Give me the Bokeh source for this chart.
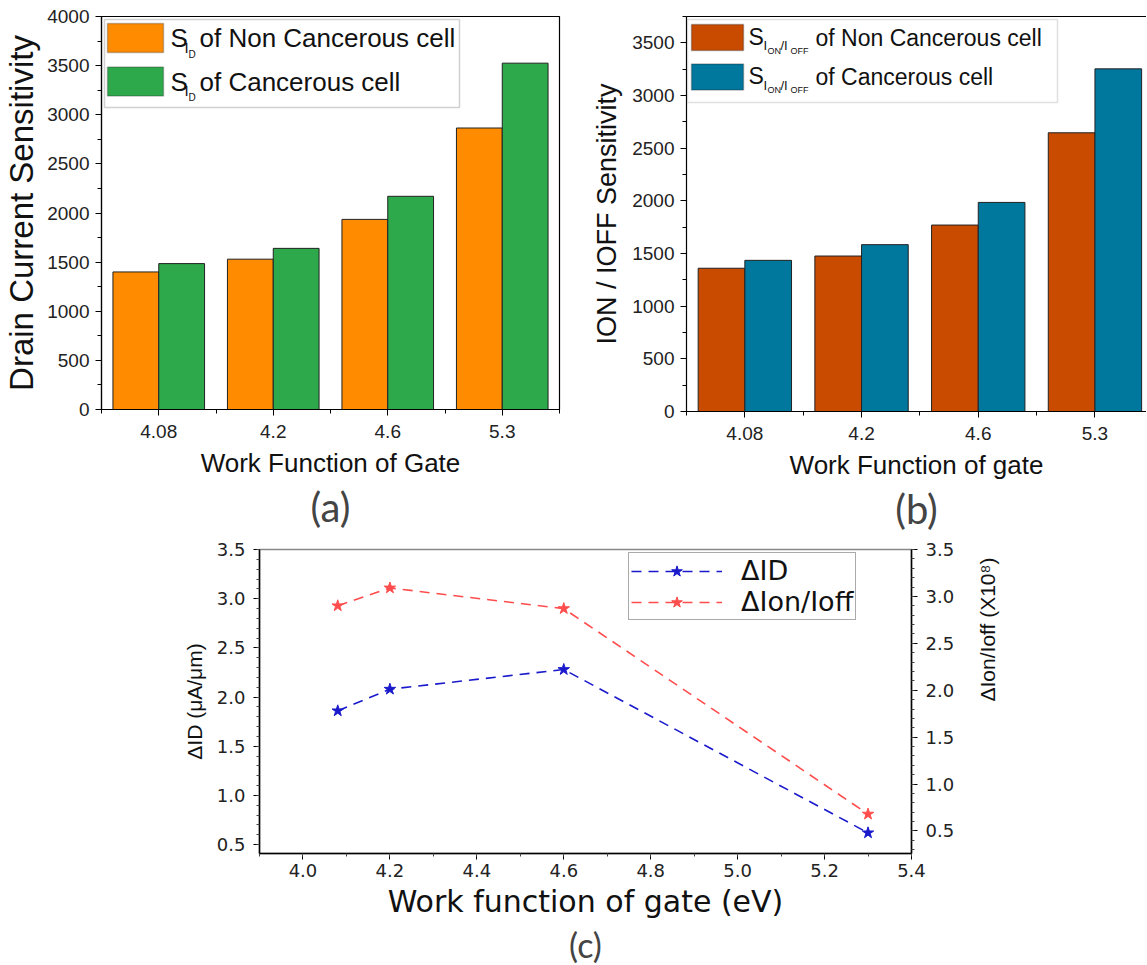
import math
from bokeh.plotting import figure
from bokeh.models import (Range1d, LinearAxis, FixedTicker, SingleIntervalTicker,
                          BoxAnnotation, Label, Legend, LegendItem, Title,
                          NumeralTickFormatter)
from bokeh.layouts import column, row
from bokeh.embed import file_html
from bokeh.resources import INLINE

# ---------------- data ----------------
work_functions = ["4.08", "4.2", "4.6", "5.3"]
sid_non_cancerous = [1400, 1530, 1935, 2865]
sid_cancerous = [1485, 1640, 2170, 3525]
sratio_non_cancerous = [1360, 1476, 1770, 2646]
sratio_cancerous = [1435, 1584, 1985, 3253]

wf_ev = [4.08, 4.2, 4.6, 5.3]
delta_id = [1.86, 2.08, 2.28, 0.62]
delta_ion_ioff = [2.90, 3.09, 2.87, 0.68]

# ---------------- styles ----------------
SANS = "Liberation Sans"
WIDE = "DejaVu Sans"
PANEL = "Lato"
ORANGE = "#FF8C00"
GREEN = "#2DA84A"
RUST = "#C84B00"
TEAL = "#00789E"
BLUE = "#1A1ACC"
RED = "#FF4D4D"

idx = [i + 1 for i in range(len(work_functions))]
x_left = [i - 0.2 for i in idx]
x_right = [i + 0.2 for i in idx]
cat_labels = {i: wf for i, wf in zip(idx, work_functions)}


def mapper(fr_left, fr_top, fr_w, fr_h, xr, yr):
    def fx(px):
        return xr[0] + (px - fr_left) / fr_w * (xr[1] - xr[0])

    def fy(py):
        return yr[1] - (py - fr_top) / fr_h * (yr[1] - yr[0])
    return fx, fy


def style_bar_axes(p, xlabel, ylabel, ylabel_size, interval):
    xa = p.xaxis[0]
    xa.ticker = FixedTicker(ticks=idx, minor_ticks=[i - 0.5 for i in idx] + [idx[-1] + 0.5])
    xa.major_label_overrides = cat_labels
    ya = p.yaxis[0]
    ya.ticker = SingleIntervalTicker(interval=interval, num_minor_ticks=2)
    for ax in (xa, ya):
        ax.axis_line_color = "black"
        ax.axis_line_width = 1.2
        ax.major_tick_line_color = "black"
        ax.minor_tick_line_color = "black"
        ax.major_tick_out = 6
        ax.major_tick_in = 0
        ax.minor_tick_out = 4
        ax.minor_tick_in = 0
        ax.major_label_text_font = SANS
        ax.major_label_text_font_size = "19px"
        ax.major_label_text_color = "#222222"
        ax.axis_label_text_font = SANS
        ax.axis_label_text_font_style = "normal"
        ax.axis_label_text_color = "#111111"
    xa.axis_label = xlabel
    xa.axis_label_text_font_size = "26px"
    xa.major_label_standoff = 9
    xa.axis_label_standoff = 7
    ya.axis_label = ylabel
    ya.axis_label_text_font_size = ylabel_size
    ya.major_label_standoff = 6
    p.grid.visible = False


# ================= panel (a) =================
A_L, A_T, A_W, A_H = 101, 16, 458, 393
A_XR, A_YR = (0.5, 4.5), (0, 4000)
pa = figure(frame_width=A_W, frame_height=A_H, min_border_left=A_L, min_border_right=20,
            min_border_top=A_T, min_border_bottom=122,
            x_range=Range1d(*A_XR), y_range=Range1d(*A_YR),
            output_backend="svg", toolbar_location=None)
pa.outline_line_color = "black"
pa.outline_line_width = 1.2
pa.vbar(x=x_left, top=sid_non_cancerous, width=0.4, fill_color=ORANGE, line_color="#222222")
pa.vbar(x=x_right, top=sid_cancerous, width=0.4, fill_color=GREEN, line_color="#222222")
style_bar_axes(pa, "Work Function of Gate", "Drain Current Sensitivity", "33px", 500)
pa.yaxis[0].axis_label_standoff = 4
pa.add_layout(Title(text="(a)", align="center", text_font=PANEL, text_font_size="40px",
                    text_font_style="normal", standoff=0), "below")

fx, fy = mapper(A_L, A_T, A_W, A_H, A_XR, A_YR)
pa.add_layout(BoxAnnotation(left=fx(104), right=fx(459), top=fy(19), bottom=fy(107),
                            fill_color="white", fill_alpha=1, line_color="#666666", line_width=1.5))
for cy, col, txt in ((37.5, ORANGE, "of Non Cancerous cell"), (81, GREEN, "of Cancerous cell")):
    pa.add_layout(BoxAnnotation(left=fx(107), right=fx(163), top=fy(cy - 14.5), bottom=fy(cy + 14.5),
                                fill_color=col, fill_alpha=1, line_color="#333333", line_width=1.5))
    pa.add_layout(Label(x=fx(170), y=fy(cy), text="S", text_baseline="middle",
                        text_font=SANS, text_font_size="26px", text_color="#111111"))
    pa.add_layout(Label(x=fx(184), y=fy(cy + 9), text="I", text_baseline="middle",
                        text_font=SANS, text_font_size="15px", text_color="#111111"))
    pa.add_layout(Label(x=fx(188), y=fy(cy + 16), text="D", text_baseline="middle",
                        text_font=SANS, text_font_size="10px", text_color="#111111"))
    pa.add_layout(Label(x=fx(199), y=fy(cy), text=txt, text_baseline="middle",
                        text_font=SANS, text_font_size="26px", text_color="#111111"))

# ================= panel (b) =================
B_L, B_T, B_W, B_H = 686, 13, 460, 395
B_XR, B_YR = (0.5, 0.5 + 460 / 116.7), (0, 3750)
pb = figure(frame_width=B_W, frame_height=B_H, min_border_left=B_L - 579, min_border_right=0,
            min_border_top=B_T, min_border_bottom=123,
            x_range=Range1d(*B_XR), y_range=Range1d(*B_YR),
            output_backend="svg", toolbar_location=None)
pb.outline_line_color = None
pb.vbar(x=x_left, top=sratio_non_cancerous, width=0.4, fill_color=RUST, line_color="#222222")
pb.vbar(x=x_right, top=sratio_cancerous, width=0.4, fill_color=TEAL, line_color="#222222")
style_bar_axes(pb, "Work Function of gate", "ION / IOFF Sensitivity", "27px", 500)
pb.yaxis[0].axis_label_standoff = 7
top_axis = LinearAxis(ticker=FixedTicker(ticks=[]), major_label_text_font_size="0px",
                      major_tick_out=0, minor_tick_out=0, major_label_standoff=0,
                      axis_line_color="black", axis_line_width=1.2)
pb.add_layout(top_axis, "above")
pb.add_layout(Title(text="(b)", align="center", text_font=PANEL, text_font_size="40px",
                    text_font_style="normal", standoff=0), "below")

gx, gy = mapper(B_L, B_T, B_W, B_H, B_XR, B_YR)
pb.add_layout(BoxAnnotation(left=gx(687), right=gx(1057), top=gy(16), bottom=gy(99),
                            fill_color="white", fill_alpha=1, line_color="#999999", line_width=1.5))
for cy, col, txt in ((34, RUST, "of Non Cancerous cell"), (73.5, TEAL, "of Cancerous cell")):
    pb.add_layout(BoxAnnotation(left=gx(691), right=gx(743), top=gy(cy - 13), bottom=gy(cy + 13),
                                fill_color=col, fill_alpha=1, line_color="#222222", line_width=1.5))
    pb.add_layout(Label(x=gx(748), y=gy(cy - 1), text="S", text_baseline="middle",
                        text_font=SANS, text_font_size="23px", text_color="#111111"))
    pb.add_layout(Label(x=gx(763), y=gy(cy + 8), text="I", text_baseline="middle",
                        text_font=SANS, text_font_size="13px", text_color="#111111"))
    pb.add_layout(Label(x=gx(767), y=gy(cy + 13), text="ON", text_baseline="middle",
                        text_font=SANS, text_font_size="9px", text_color="#111111"))
    pb.add_layout(Label(x=gx(780), y=gy(cy + 8), text="/I", text_baseline="middle",
                        text_font=SANS, text_font_size="13px", text_color="#111111"))
    pb.add_layout(Label(x=gx(790), y=gy(cy + 13), text="OFF", text_baseline="middle",
                        text_font=SANS, text_font_size="9px", text_color="#111111"))
    pb.add_layout(Label(x=gx(815), y=gy(cy), text=txt, text_baseline="middle",
                        text_font=SANS, text_font_size="23px", text_color="#111111"))

# ================= panel (c) =================
C_L, C_W, C_H = 259, 652, 304
pc = figure(frame_width=C_W, frame_height=C_H, min_border_left=C_L, min_border_right=235,
            min_border_top=18, min_border_bottom=100,
            x_range=Range1d(3.9, 5.4), y_range=Range1d(0.41, 3.5),
            output_backend="svg", toolbar_location=None)
pc.extra_y_ranges = {"r": Range1d(0.26, 3.5)}
pc.grid.visible = False
pc.outline_line_color = "#888888"
pc.outline_line_width = 1.5

l1 = pc.line(wf_ev, delta_id, line_color=BLUE, line_dash="10 7", line_width=1.6)
s1 = pc.scatter(wf_ev, delta_id, marker="star", size=12, fill_color=BLUE, line_color=BLUE)
l2 = pc.line(wf_ev, delta_ion_ioff, line_color=RED, line_dash="10 7", line_width=1.6, y_range_name="r")
s2 = pc.scatter(wf_ev, delta_ion_ioff, marker="star", size=12, fill_color=RED, line_color=RED,
                y_range_name="r")

right_axis = LinearAxis(y_range_name="r")
pc.add_layout(right_axis, "right")

pc.xaxis[0].ticker = SingleIntervalTicker(interval=0.2, num_minor_ticks=2)
pc.yaxis[0].ticker = SingleIntervalTicker(interval=0.5, num_minor_ticks=5)
right_axis.ticker = SingleIntervalTicker(interval=0.5, num_minor_ticks=5)
for ax in (pc.xaxis[0], pc.yaxis[0], right_axis):
    ax.formatter = NumeralTickFormatter(format="0.0")
    ax.axis_line_color = "black"
    ax.axis_line_width = 1.5
    ax.major_tick_line_color = "black"
    ax.minor_tick_line_color = "#444444"
    ax.major_tick_out = 6
    ax.major_tick_in = 0
    ax.minor_tick_out = 3
    ax.minor_tick_in = 0
    ax.major_label_text_font = WIDE
    ax.major_label_text_font_size = "18px"
    ax.major_label_text_color = "#222222"
    ax.axis_label_text_font_style = "normal"
    ax.axis_label_text_color = "#111111"
    ax.major_label_standoff = 8

pc.xaxis[0].axis_label = "Work function of gate (eV)"
pc.xaxis[0].axis_label_text_font = WIDE
pc.xaxis[0].axis_label_text_font_size = "30px"
pc.xaxis[0].major_label_standoff = 4
pc.xaxis[0].axis_label_standoff = 4
pc.yaxis[0].axis_label = "ΔID (μA/μm)"
pc.yaxis[0].axis_label_text_font = SANS
pc.yaxis[0].axis_label_text_font_size = "21px"
pc.yaxis[0].axis_label_standoff = 8
right_axis.axis_label = "ΔIon/Ioff (X10⁸)"
right_axis.axis_label_text_font = SANS
right_axis.axis_label_text_font_size = "21px"
right_axis.axis_label_standoff = 30
try:
    right_axis.axis_label_orientation = math.pi / 2
except Exception:
    pass

legend = Legend(items=[LegendItem(label="ΔID", renderers=[l1, s1]),
                       LegendItem(label="ΔIon/Ioff", renderers=[l2, s2])],
                location=(369, 233), glyph_width=91, glyph_height=28, label_standoff=19,
                padding=2, spacing=0, margin=0,
                label_text_font=WIDE, label_text_font_size="27px", label_text_color="#111111",
                border_line_color="#555555", border_line_width=1.2,
                background_fill_color="white", background_fill_alpha=1)
pc.add_layout(legend)
pc.add_layout(Title(text="(c)", align="center", text_font=PANEL, text_font_size="34px",
                    text_font_style="normal", standoff=0), "below")

for p in (pa, pb, pc):
    p.background_fill_color = "white"
    p.border_fill_color = "white"

layout = column(row(pa, pb), pc)
open("out.html", "w").write(file_html(layout, INLINE))
